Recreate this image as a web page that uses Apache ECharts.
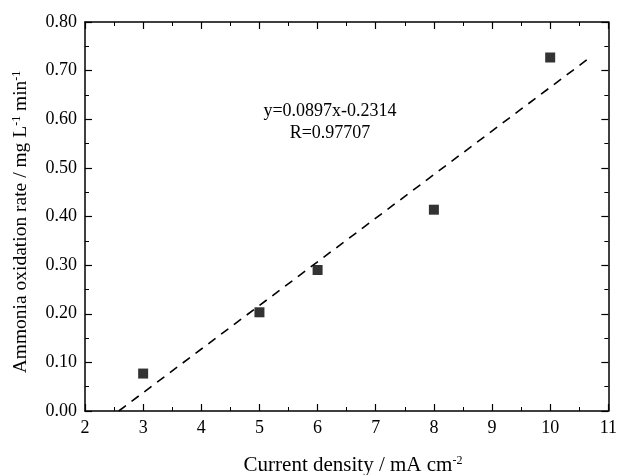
<!DOCTYPE html>
<html>
<head>
<meta charset="utf-8">
<script src="https://cdn.jsdelivr.net/npm/echarts@6/dist/echarts.min.js"></script>
<style>html,body{margin:0;padding:0;background:#fff}#c{width:620px;height:475px}</style>
</head>
<body>
<div id="c"></div>
<script>
var xValues = [3, 5, 6, 8, 10];
var yValues = [0.077, 0.203, 0.290, 0.414, 0.727];
var fitX = [2.58, 10.72];
var fitY = [0.0, 0.7302];
var xTicks = [2, 3, 4, 5, 6, 7, 8, 9, 10, 11];
var yTicks = ['0.00','0.10','0.20','0.30','0.40','0.50','0.60','0.70','0.80'];
var equationText = 'y=0.0897x-0.2314';
var rText = 'R=0.97707';

var FONT = '"Liberation Serif", "Times New Roman", serif';
var pts = xValues.map(function (x, i) { return [x, yValues[i]]; });
var fit = fitX.map(function (x, i) { return [x, fitY[i]]; });

function axisCommon(showLabels, isX) {
  return {
    type: 'value',
    axisLine: { show: true, onZero: false, lineStyle: { color: '#000', width: 1.5 } },
    axisTick: { show: true, inside: true, length: 7, lineStyle: { color: '#000', width: 1.2 } },
    minorTick: { show: true, splitNumber: 2, length: 4, lineStyle: { color: '#000', width: 1 } },
    splitLine: { show: false },
    axisLabel: {
      show: showLabels, color: '#000', fontFamily: FONT, fontSize: 18, margin: 8,
      formatter: isX ? function (v) { return String(v); } : function (v) { return v.toFixed(2); }
    }
  };
}

var chart = echarts.init(document.getElementById('c'), null, { renderer: 'canvas' });
var xb = axisCommon(true, true);
Object.assign(xb, { min: xTicks[0], max: xTicks[xTicks.length - 1], interval: 1, position: 'bottom' });
var xt = axisCommon(false, true);
Object.assign(xt, { min: xTicks[0], max: xTicks[xTicks.length - 1], interval: 1, position: 'top' });
var yl = axisCommon(true, false);
Object.assign(yl, { min: 0, max: 0.8, interval: 0.1, position: 'left' });
var yr = axisCommon(false, false);
Object.assign(yr, { min: 0, max: 0.8, interval: 0.1, position: 'right' });

chart.setOption({
  animation: false,
  backgroundColor: '#fff',
  grid: { left: 85, right: 8, top: 22, bottom: 64, containLabel: false },
  xAxis: [xb, xt],
  yAxis: [yl, yr],
  series: [
    {
      type: 'line', data: fit, xAxisIndex: 0, yAxisIndex: 0,
      symbol: 'none', lineStyle: { color: '#000', width: 1.6, type: [9, 7] }, z: 2
    },
    {
      type: 'scatter', data: pts, xAxisIndex: 0, yAxisIndex: 0,
      symbol: 'rect', symbolSize: 10, itemStyle: { color: '#000' }, z: 3
    }
  ],
  graphic: [
    { type: 'text', x: 330, y: 111, style: { text: equationText, font: '18px ' + FONT, fill: '#000', align: 'center', verticalAlign: 'middle' } },
    { type: 'text', x: 330, y: 133, style: { text: rText, font: '18px ' + FONT, fill: '#000', align: 'center', verticalAlign: 'middle' } },
    { type: 'text', x: 353, y: 465, style: {
        text: 'Current density / mA cm{sup|-2}', fill: '#000', fontFamily: FONT, fontSize: 21,
        align: 'center', verticalAlign: 'middle',
        rich: { sup: { fontFamily: FONT, fontSize: 12, verticalAlign: 'top', fill: '#000' } } } },
    { type: 'text', x: 21, y: 222, rotation: Math.PI / 2, style: {
        text: 'Ammonia oxidation rate / mg L{sup|-1} min{sup|-1}', fill: '#000', fontFamily: FONT, fontSize: 19.5,
        align: 'center', verticalAlign: 'middle',
        rich: { sup: { fontFamily: FONT, fontSize: 12, verticalAlign: 'top', fill: '#000' } } } }
  ]
});
</script>
</body>
</html>
